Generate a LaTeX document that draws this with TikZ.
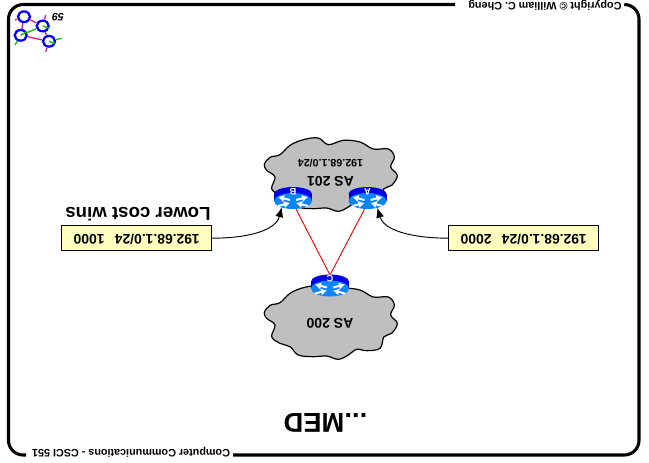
\documentclass[tikz,border=0pt]{standalone}
\usepackage{fontspec}
\setmainfont{Liberation Sans}
\usepackage{xcolor}
\usetikzlibrary{arrows.meta,shapes.geometric}
\definecolor{cloudgray}{HTML}{BFBFBF}
\definecolor{boxyellow}{HTML}{FFFFC0}
\definecolor{routerdark}{HTML}{0000E8}
\definecolor{routerlight}{HTML}{0A84FF}
\definecolor{logopink}{HTML}{D0208F}
\definecolor{logogreen}{HTML}{10C010}
\tikzset{
  flip/.style={rotate=180,inner sep=0pt},
  slidetitle/.style={flip,font=\bfseries\fontsize{20.5}{24}\selectfont},
  footer/.style={flip,font=\bfseries\fontsize{8.1}{10}\selectfont},
  aslabel/.style={flip,font=\bfseries\fontsize{10.5}{12}\selectfont},
  prefixlabel/.style={flip,font=\bfseries\fontsize{8}{10}\selectfont},
  remark/.style={flip,font=\bfseries\fontsize{14}{16}\selectfont},
  routebox/.style={rotate=180,draw=black,line width=.7pt,fill=boxyellow,minimum width=112.5pt,minimum height=18.75pt,inner sep=0pt,text depth=1.5pt,font=\bfseries\fontsize{10.4}{12}\selectfont},
  routernode/.style={ellipse,minimum width=28.5pt,minimum height=16.5pt,inner sep=0pt},
  routerlabel/.style={flip,text=white,font=\bfseries\fontsize{7}{8}\selectfont},
  logonode/.style={ellipse,draw=blue,line width=1.7pt,fill=white,minimum width=9pt,minimum height=8pt,inner sep=0pt},
  frameline/.style={line width=2.3pt,rounded corners=11pt},
  advert/.style={-{Latex[length=7.5pt,width=6pt]},black,line width=.7pt},
  peering/.style={red,line width=.7pt},
  asCloud/.pic={
    \draw[fill=cloudgray,line width=.9pt,x=.25pt,y=-.25pt] plot[smooth cycle,tension=.6] coordinates {
      (13,97) (30,76) (60,68) (90,40) (130,23) (175,18) (205,38) (250,25) (300,30) (340,51)
      (385,51) (403,75) (392,105) (412,130) (395,160) (372,170) (360,205) (320,212)
      (290,208) (265,225) (235,238) (200,228) (160,230) (115,225) (90,200) (60,190)
      (35,170) (45,135) (20,115)};
  },
  routerBody/.pic={
    \fill[routerdark] (-19,-4) rectangle (19,3);
    \fill[routerdark] (0,-4) ellipse (19 and 7);
    \fill[routerlight] (0,3) ellipse (19 and 8);
    \foreach \sx/\sy/\tx/\ty in {-3/2/-15/-1,3/2/15/-1,-15/8/-3/5,15/8/3/5}
      \draw[white,line width=1.5pt,-{Latex[length=4.5pt,width=5.5pt]}] (\sx,\sy) -- (\tx,\ty);
  }
}
\begin{document}
\begin{tikzpicture}[x=.75pt,y=-.75pt]
  \useasboundingbox (0,0) rectangle (649,462);
  % frame
  \draw[frameline] (455,4.5) -- (8.5,4.5) -- (8.5,455) -- (26,455);
  \draw[frameline] (233,455) -- (639,455) -- (639,4.5) -- (625,4.5);
  \node[footer] (copyright) at (545,5.5) {Copyright © William C. Cheng};
  \node[footer] (course) at (131,452) {Computer Communications - CSCI 551};
  \node[flip,font=\bfseries\itshape\fontsize{8}{10}\selectfont] (pagenum) at (58,17) {59};
  \node[slidetitle] (title) at (325.5,423) {...MED};
  % logo
  \node[logonode] (n1) at (24,16.7) {};
  \node[logonode] (n2) at (42.7,26) {};
  \node[logonode] (n3) at (20.7,35.3) {};
  \node[logonode] (n4) at (49,41.3) {};
  \coordinate (s1) at (15,20);
  \coordinate (s2) at (45.7,15);
  \coordinate (s4) at (45.7,51.7);
  \coordinate (g3) at (15,45);
  \coordinate (g4) at (61.7,38.3);
  \draw[logopink,line width=1pt] (s1) -- (n1) (n1) -- (n2) (n1) -- (n3) (n3) -- (n4) (n2) -- (n4) (n2) -- (s2) (n4) -- (s4);
  \draw[logogreen,line width=1pt] (n3) -- (n2) (n3) -- (g3) (n4) -- (g4);
  \draw[logogreen,line width=1pt] (n3.center) -- (n3.30) (n2.center) -- (n2.-20) (n4.center) -- (n4.-20);
  % clouds
  \pic at (260,132) {asCloud};
  \pic at (260,280) {asCloud};
  \node[aslabel] (as201) at (330.5,181) {AS 201};
  \node[prefixlabel] (prefix201) at (330.5,163.5) {192.68.1.0/24};
  \node[aslabel] (as200) at (330,323.5) {AS 200};
  % routers
  \pic at (293,198) {routerBody};
  \pic at (367.5,198) {routerBody};
  \pic at (330,285.5) {routerBody};
  \node[routernode] (rB) at (293,198) {};
  \node[routernode] (rA) at (367.5,198) {};
  \node[routernode] (rC) at (330,285.5) {};
  \node[routerlabel] (lblB) at (293,191.5) {B};
  \node[routerlabel] (lblA) at (367.5,191.5) {A};
  \node[routerlabel] (lblC) at (330,279) {C};
  \draw[peering] (rB.285) -- (rC.92);
  \draw[peering] (rA.255) -- (rC.88);
  % advertisements
  \node[routebox] (boxB) at (136.7,238.2) {192.68.1.0/24\hspace{.75em}1000};
  \node[routebox] (boxA) at (523.7,238.2) {192.68.1.0/24\hspace{.75em}2000};
  \node[remark] (cost) at (138,214) {Lower cost wins};
  \draw[advert] (boxB.west) .. controls (250,238) and (276,230) .. (rB.219);
  \draw[advert] (boxA.east) .. controls (410,238) and (384,230) .. (rA.-45);
\end{tikzpicture}
\end{document}
